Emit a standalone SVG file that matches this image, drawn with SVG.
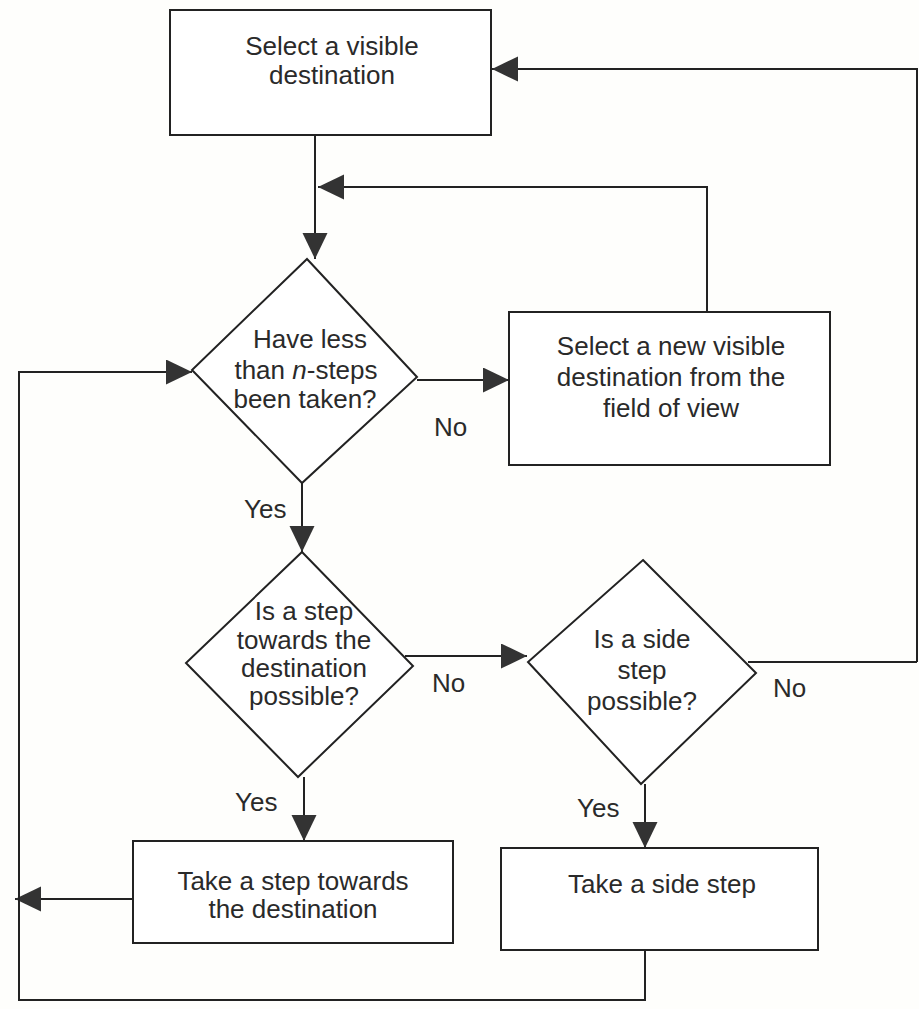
<svg xmlns="http://www.w3.org/2000/svg" width="919" height="1009" viewBox="0 0 919 1009">
<style>
.box{fill:#fff;stroke:#222;stroke-width:2}
.ln{fill:none;stroke:#222;stroke-width:2}
.ar{marker-end:url(#ah)}
text{font-family:"Liberation Sans",Arial,sans-serif;font-size:26px;fill:#2a2a2a;text-anchor:middle}
.lbl{text-anchor:start}
</style>
<defs>
<marker id="ah" markerUnits="userSpaceOnUse" markerWidth="26" markerHeight="26" refX="26" refY="12.5" orient="auto">
<path d="M0,0 L26,12.5 L0,25 z" fill="#333"/>
</marker>
</defs>
<rect width="919" height="1009" fill="#fefefc"/>
<g id="connectors">
<path class="ln ar" d="M315,135 V259"/>
<path class="ln ar" d="M917,662 V69 H492"/>
<path class="ln ar" d="M707,312 V187 H318"/>
<path class="ln ar" d="M417,380 H509"/>
<path class="ln ar" d="M302,483 V552"/>
<path class="ln ar" d="M405,656 H527"/>
<path class="ln" d="M748,662 H917"/>
<path class="ln ar" d="M304,777 V841"/>
<path class="ln ar" d="M645,784 V848"/>
<path class="ln ar" d="M133,899 H15"/>
<path class="ln ar" d="M645,950 V1000 H19 V372 H192"/>
<text class="lbl" x="434" y="436">No</text>
<text class="lbl" x="244" y="518">Yes</text>
<text class="lbl" x="432" y="692">No</text>
<text class="lbl" x="773" y="697">No</text>
<text class="lbl" x="235" y="811">Yes</text>
<text class="lbl" x="577" y="817">Yes</text>
</g>
<g id="select-visible">
<rect class="box" x="170" y="10" width="321" height="125"/>
<text x="332" y="55">Select a visible</text>
<text x="332" y="84">destination</text>
</g>
<g id="less-than-n">
<polygon class="box" points="307,259 417,377 302,483 192,370"/>
<text x="310" y="348">Have less</text>
<text x="306" y="379">than <tspan font-style="italic">n</tspan>-steps</text>
<text x="305" y="408">been taken?</text>
</g>
<g id="select-new">
<rect class="box" x="509" y="312" width="321" height="153"/>
<text x="671" y="355">Select a new visible</text>
<text x="671" y="386">destination from the</text>
<text x="671" y="417">field of view</text>
</g>
<g id="step-towards-possible">
<polygon class="box" points="302,552 413,666 298,777 186,663"/>
<text x="304" y="620">Is a step</text>
<text x="304" y="649">towards the</text>
<text x="304" y="677">destination</text>
<text x="304" y="705">possible?</text>
</g>
<g id="side-step-possible">
<polygon class="box" points="643,560 756,673 641,784 528,662"/>
<text x="642" y="648">Is a side</text>
<text x="642" y="679">step</text>
<text x="642" y="710">possible?</text>
</g>
<g id="take-step">
<rect class="box" x="133" y="841" width="320" height="102"/>
<text x="293" y="890">Take a step towards</text>
<text x="293" y="918">the destination</text>
</g>
<g id="take-side-step">
<rect class="box" x="501" y="848" width="317" height="102"/>
<text x="662" y="893">Take a side step</text>
</g>
</svg>
